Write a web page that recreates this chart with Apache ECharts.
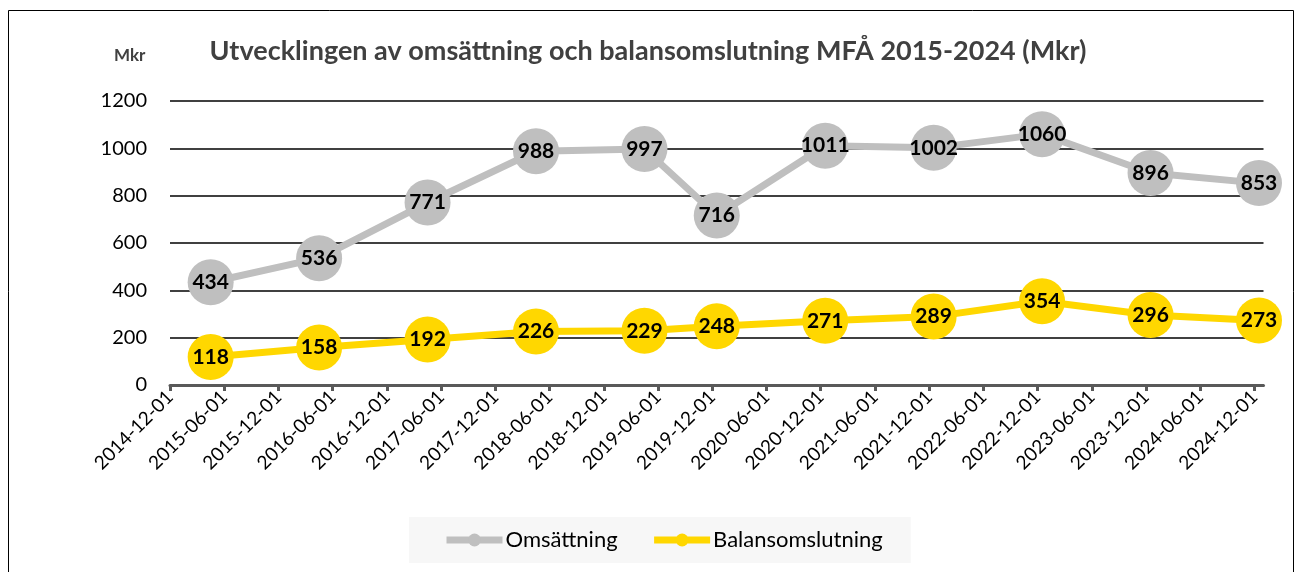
<!DOCTYPE html>
<html>
<head>
<meta charset="utf-8">
<script src="https://cdn.jsdelivr.net/npm/echarts@6/dist/echarts.min.js"></script>
<style>
  html, body { margin: 0; padding: 0; background: #fff; }
  #chart { width: 1296px; height: 572px; }
</style>
</head>
<body>
<div id="chart"></div>
<script>
// räkenskapsår (månad), omsättning och balansomslutning i Mkr
var periods = ['2015-04','2016-04','2017-04','2018-04','2019-04','2019-12','2020-12','2021-12','2022-12','2023-12','2024-12'];
var omsattning = [434, 536, 771, 988, 997, 716, 1011, 1002, 1060, 896, 853];
var balansomslutning = [118, 158, 192, 226, 229, 248, 271, 289, 354, 296, 273];

var tickLabels = ['2014-12-01','2015-06-01','2015-12-01','2016-06-01','2016-12-01','2017-06-01','2017-12-01',
  '2018-06-01','2018-12-01','2019-06-01','2019-12-01','2020-06-01','2020-12-01','2021-06-01','2021-12-01',
  '2022-06-01','2022-12-01','2023-06-01','2023-12-01','2024-06-01','2024-12-01'];
var yTicks = [0, 200, 400, 600, 800, 1000, 1200];

// månader sedan 2014-12 (datumaxel med månad som basenhet, som i Excel)
function monthIdx(s) {
  var p = s.split('-');
  return (parseInt(p[0], 10) - 2014) * 12 + (parseInt(p[1], 10) - 12);
}
var tickValues = tickLabels.map(monthIdx);
var labelByValue = {};
tickLabels.forEach(function (t, i) { labelByValue[tickValues[i]] = t; });

function pairs(vals) {
  // punkten ligger mitt i sin månad
  return vals.map(function (v, i) { return [monthIdx(periods[i]) + 0.5, v]; });
}

var FONT = 'Lato, "Open Sans", sans-serif';
var GREY = '#BFBFBF';
var YELLOW = '#FFD700';

var chart = echarts.init(document.getElementById('chart'), null, { renderer: 'canvas' });

function lineSeries(name, color, vals) {
  return {
    name: name,
    type: 'line',
    data: pairs(vals),
    symbol: 'circle',
    symbolSize: 46,
    lineStyle: { color: color, width: 7 },
    itemStyle: { color: color },
    label: {
      show: true, position: 'inside',
      formatter: function (p) { return p.value[1]; },
      color: '#000', fontFamily: FONT, fontWeight: 'bold', fontSize: 21
    },
    emphasis: { disabled: true },
    animation: false
  };
}

chart.setOption({
  backgroundColor: '#fff',
  animation: false,
  title: {
    text: 'Utvecklingen av omsättning och balansomslutning MFÅ 2015-2024 (Mkr)',
    left: 'center', top: 33,
    textStyle: { fontFamily: FONT, fontWeight: 'bold', fontSize: 27, color: '#404040' }
  },
  graphic: [
    { type: 'rect', shape: { x: 8.5, y: 10.5, width: 1285, height: 600 },
      style: { fill: 'none', stroke: '#000', lineWidth: 1 }, silent: true },
    { type: 'text', left: 114, top: 47,
      style: { text: 'Mkr', font: 'bold 17px ' + FONT, fill: '#404040' } }
  ],
  legend: {
    bottom: 9, left: 409,
    padding: [12, 28, 12, 34],
    backgroundColor: '#F7F7F7',
    itemWidth: 56, itemHeight: 16, itemGap: 33,
    lineStyle: { width: 7 },
    textStyle: { fontFamily: FONT, fontSize: 22, color: '#000', padding: [0, 0, 0, -2] },
    data: ['Omsättning', 'Balansomslutning']
  },
  grid: { left: 170, right: 32.5, top: 101, bottom: 187, containLabel: false },
  xAxis: {
    type: 'value', min: 0, max: 121,
    axisLine: { show: true, lineStyle: { color: '#595959', width: 3 } },
    axisTick: { show: true, length: 6, lineStyle: { color: '#595959', width: 3 }, customValues: tickValues },
    axisLabel: {
      customValues: tickValues,
      rotate: 45, margin: 9,
      fontFamily: FONT, fontSize: 19, color: '#000',
      formatter: function (v) { return labelByValue[Math.round(v)] || ''; }
    },
    splitLine: { show: false }
  },
  yAxis: {
    type: 'value', min: yTicks[0], max: yTicks[yTicks.length - 1], interval: 200,
    axisLine: { show: false }, axisTick: { show: false },
    axisLabel: {
      margin: 23, fontFamily: FONT, fontSize: 20, color: '#000',
      formatter: function (v) { return String(v); }
    },
    splitLine: { lineStyle: { color: '#000', width: 1.6 } }
  },
  series: [
    lineSeries('Omsättning', GREY, omsattning),
    lineSeries('Balansomslutning', YELLOW, balansomslutning)
  ]
});
</script>
</body>
</html>
